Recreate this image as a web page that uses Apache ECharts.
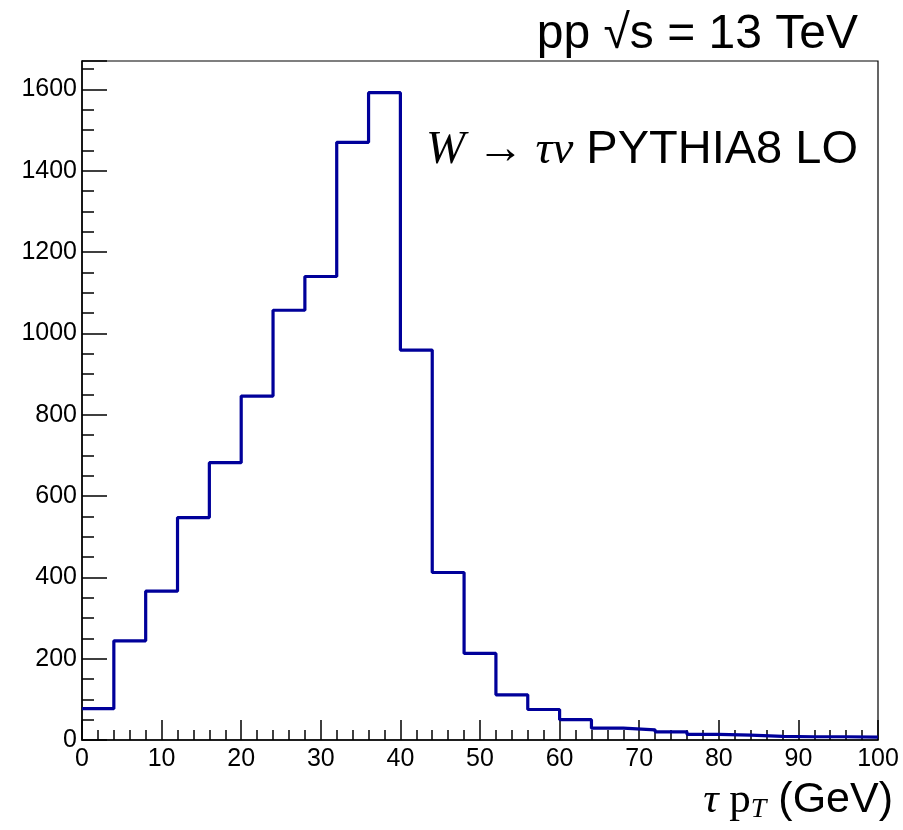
<!DOCTYPE html>
<html>
<head>
<meta charset="utf-8">
<script src="https://cdn.jsdelivr.net/npm/echarts@6/dist/echarts.min.js"></script>
<style>html,body{margin:0;padding:0;background:#fff}#c{width:903px;height:830px}</style>
</head>
<body>
<div id="c"></div>
<script>
// Bin lower edges (GeV) and contents
const binEdges = [0,4,8,12,16,20,24,28,32,36,40,44,48,52,56,60,64,68,72,76,80,84,88,92,96,100];
const binCounts = [77,244,366,547,682,846,1057,1140,1470,1592,959,412,213,111,75,50,29,25,20,14,12,9,8,8,7];
const xTicks = [0,10,20,30,40,50,60,70,80,90,100];
const yTicks = [0,200,400,600,800,1000,1200,1400,1600];
const titleText = 'pp √s = 13 TeV';
const processMath = 'W → τν';
const processText = ' PYTHIA8 LO';

const pts = binCounts.map((v,i)=>[binEdges[i], v]);
pts.push([binEdges[binEdges.length-1], binCounts[binCounts.length-1]]);

const chart = echarts.init(document.getElementById('c'), null, {renderer:'canvas'});
const sans = 'Liberation Sans';
const serif = 'Liberation Serif';
const tickStyle = {color:'#000',width:1.5};
chart.setOption({
  animation:false,
  backgroundColor:'#fff',
  grid:{left:82,right:25,top:61,bottom:90,show:true,borderColor:'#000',borderWidth:1.2,backgroundColor:'transparent'},
  xAxis:{type:'value',min:0,max:100,interval:10,
    axisLine:{show:true,onZero:false,lineStyle:tickStyle},
    axisTick:{show:true,inside:true,length:20,lineStyle:tickStyle},
    minorTick:{show:true,splitNumber:5,length:10,lineStyle:tickStyle},
    splitLine:{show:false},
    axisLabel:{color:'#000',fontFamily:sans,fontSize:25,margin:7,showMaxLabel:true,
      formatter:v=>xTicks.includes(v)?String(v):''}
  },
  yAxis:[{type:'value',min:0,max:1670,interval:200,
    axisLine:{show:true,onZero:false,lineStyle:tickStyle},
    axisTick:{show:true,inside:true,length:25,lineStyle:tickStyle},
    minorTick:{show:false},
    splitLine:{show:false},
    axisLabel:{color:'#000',fontFamily:sans,fontSize:25,margin:5,
      formatter:v=>yTicks.includes(v)?String(v):''}
  },{type:'value',min:0,max:1670,interval:50,position:'left',
    axisLine:{show:false},
    axisTick:{show:true,inside:true,length:12,lineStyle:tickStyle},
    axisLabel:{show:false},splitLine:{show:false}
  }],
  series:[{type:'line',data:pts,step:'end',showSymbol:false,symbol:'none',
    lineStyle:{color:'#00009a',width:3.2},clip:false}],
  graphic:[
    {type:'text',right:45,top:11,style:{text:titleText,font:'48px '+sans,fill:'#000'}},
    {type:'text',right:45,top:127,style:{
      text:'{m|'+processMath+'}{s|'+processText+'}',
      rich:{m:{fontFamily:serif,fontStyle:'italic',fontSize:47,fill:'#000'},
            s:{fontFamily:sans,fontSize:47,fill:'#000'}}}},
    {type:'text',right:10,top:779,style:{
      text:'{t|τ }{p|p}{sub|T}{g| (GeV)}',
      rich:{t:{fontFamily:serif,fontStyle:'italic',fontSize:43,fill:'#000'},
            p:{fontFamily:serif,fontSize:43,fill:'#000'},
            sub:{fontFamily:serif,fontStyle:'italic',fontSize:28,fill:'#000',padding:[18,0,0,0]},
            g:{fontFamily:sans,fontSize:43,fill:'#000'}}}}
  ]
});
</script>
</body>
</html>
